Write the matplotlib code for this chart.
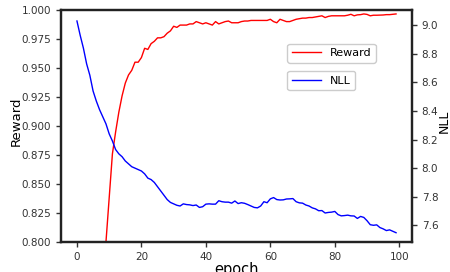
import matplotlib
matplotlib.use("Agg")
import matplotlib.pyplot as plt
import numpy as np

epochs = list(range(100))

reward = [0.35, 0.40, 0.45, 0.50, 0.55, 0.60, 0.66, 0.71, 0.75, 0.800,
          0.838, 0.876, 0.895, 0.912, 0.926, 0.937, 0.944, 0.948, 0.955, 0.955,
          0.959, 0.967, 0.966, 0.971, 0.973, 0.976, 0.976, 0.977, 0.980, 0.982,
          0.986, 0.985, 0.987, 0.987, 0.987, 0.988, 0.988, 0.990, 0.989, 0.988,
          0.989, 0.988, 0.987, 0.990, 0.988, 0.989, 0.990, 0.9905, 0.989, 0.989,
          0.989, 0.990, 0.9905, 0.9905, 0.991, 0.991, 0.991, 0.991, 0.991, 0.991,
          0.992, 0.990, 0.989, 0.992, 0.991, 0.990, 0.990, 0.991, 0.992, 0.9925,
          0.993, 0.993, 0.9935, 0.9935, 0.994, 0.9945, 0.995, 0.9935, 0.9945, 0.995,
          0.995, 0.995, 0.995, 0.995, 0.9955, 0.9963, 0.995, 0.9958, 0.996, 0.9966,
          0.9962, 0.995, 0.9955, 0.9955, 0.9956, 0.9957, 0.996, 0.996, 0.9963, 0.9966]

nll = [9.03, 8.93, 8.84, 8.73, 8.65, 8.54, 8.47, 8.41, 8.36, 8.31,
       8.24, 8.19, 8.13, 8.10, 8.08, 8.05, 8.03, 8.01, 8.00, 7.99,
       7.98, 7.96, 7.93, 7.92, 7.90, 7.87, 7.84, 7.81, 7.78, 7.76,
       7.75, 7.74, 7.735, 7.75, 7.745, 7.743, 7.738, 7.742, 7.725, 7.73,
       7.748, 7.75, 7.748, 7.748, 7.772, 7.765, 7.762, 7.762, 7.755, 7.77,
       7.752, 7.758, 7.754, 7.745, 7.735, 7.725, 7.722, 7.735, 7.765, 7.758,
       7.785, 7.794, 7.78, 7.777, 7.778, 7.784, 7.785, 7.787, 7.765, 7.757,
       7.755, 7.742, 7.735, 7.722, 7.715, 7.702, 7.703, 7.686, 7.69, 7.692,
       7.697, 7.675, 7.666, 7.668, 7.671, 7.666, 7.665, 7.648, 7.662, 7.655,
       7.632, 7.604, 7.600, 7.603, 7.584, 7.575, 7.563, 7.568, 7.558, 7.548]

reward_ticks = [0.800, 0.825, 0.850, 0.875, 0.900, 0.925, 0.950, 0.975, 1.000]
nll_ticks = [7.6, 7.8, 8.0, 8.2, 8.4, 8.6, 8.8, 9.0]
epoch_ticks = [0, 20, 40, 60, 80, 100]

fig = plt.figure(figsize=(4.5, 2.72), dpi=100)
ax = fig.add_axes([61/450, 1-242/272, (412-61)/450, (242-10)/272])
ax2 = ax.twinx()

l1, = ax.plot(epochs, reward, color='red', lw=1.0, label='Reward')
l2, = ax2.plot(epochs, nll, color='blue', lw=1.0, label='NLL')

ax.set_ylim(0.8, 1.0)
ax2.set_ylim(7.483, 9.107)
ax.set_xlim(-4.95, 103.95)
ax.set_yticks(reward_ticks)
ax.set_yticklabels([f"{v:.3f}" for v in reward_ticks])
ax2.set_yticks(nll_ticks)
ax2.set_yticklabels([f"{v:.1f}" for v in nll_ticks])
ax.set_xticks(epoch_ticks)

for a in (ax, ax2):
    a.tick_params(labelsize=7.5, length=3.5, width=1, colors='#333333')
    for s in a.spines.values():
        s.set_linewidth(1.6)
        s.set_color('#222222')

ax.set_xlabel('epoch', fontsize=10.5)
ax.xaxis.set_label_coords(0.5, -0.085)
ax.set_ylabel('Reward', fontsize=9.5)
ax.yaxis.set_label_coords(-0.108, 0.52)
ax2.set_ylabel('NLL', fontsize=9)
ax2.yaxis.set_label_coords(1.072, 0.52)

leg1 = ax.legend(handles=[l1], loc='upper left', bbox_to_anchor=(0.645, 0.855),
                 fontsize=8, handlelength=2.6, borderaxespad=0, framealpha=1)
ax.add_artist(leg1)
leg2 = ax.legend(handles=[l2], loc='upper left', bbox_to_anchor=(0.645, 0.736),
                 fontsize=8, handlelength=2.6, borderaxespad=0, framealpha=1)

fig.savefig('out.png', dpi=100)
